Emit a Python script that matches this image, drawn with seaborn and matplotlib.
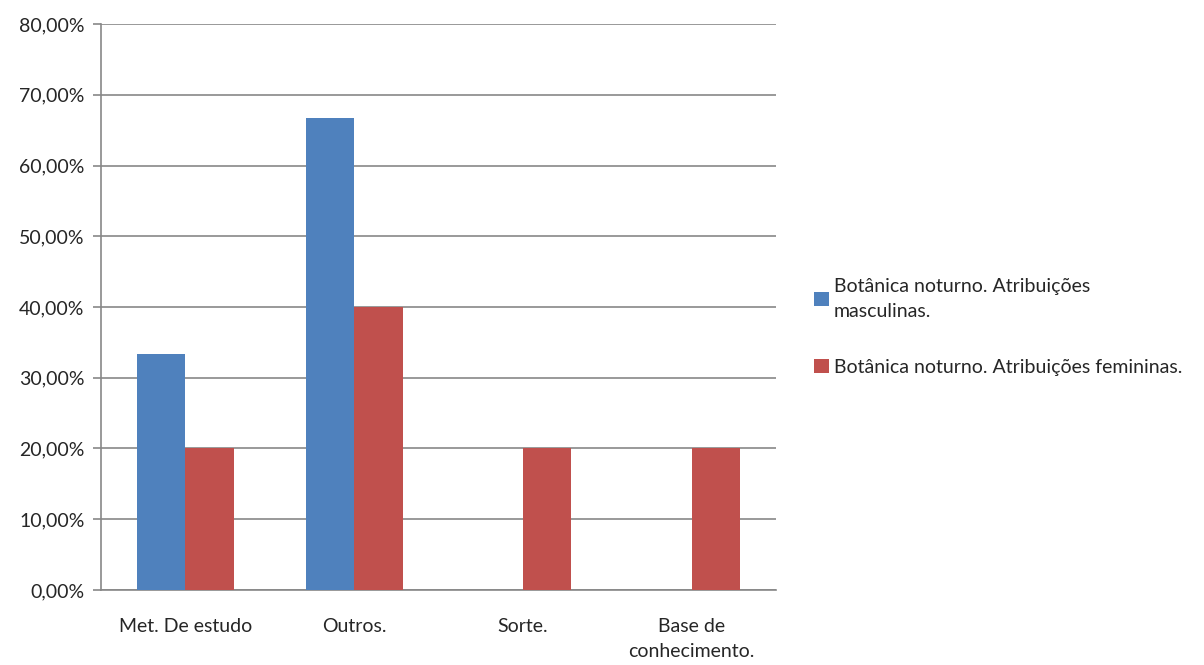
import seaborn as sns
import matplotlib.pyplot as plt
import pandas as pd
from matplotlib.ticker import FuncFormatter

categorias = ['Met. De estudo', 'Outros.', 'Sorte.', 'Base de\nconhecimento.']
series = ['Botânica noturno. Atribuições\nmasculinas.',
          'Botânica noturno. Atribuições femininas.']
masculinas = [33.33, 66.67, 0.0, 0.0]
femininas = [20.0, 40.0, 20.0, 20.0]
cores = ['#4F81BD', '#C0504D']

df = pd.DataFrame({
    'categoria': categorias * 2,
    'serie': [series[0]] * 4 + [series[1]] * 4,
    'valor': masculinas + femininas,
})

sns.set_theme(style='white')
plt.rcParams['font.family'] = ['Lato', 'DejaVu Sans']

fig = plt.figure(figsize=(12.04, 6.65), dpi=100)
ax = fig.add_axes([0.0839, 0.1128, 0.5606, 0.8511])

sns.barplot(data=df, x='categoria', y='valor', hue='serie', palette=cores,
            width=0.575, gap=0, saturation=1, linewidth=0, ax=ax, zorder=3)

ax.set_ylim(0, 80)
ax.set_xlim(-0.5, 3.5)
ax.set_yticks(range(0, 81, 10))
ax.yaxis.set_major_formatter(FuncFormatter(lambda v, p: f'{v:.2f}%'.replace('.', ',')))
ax.grid(axis='y', color='#878787', linewidth=1.2, zorder=0)
ax.set_xlabel('')
ax.set_ylabel('')

for s in ['top', 'right']:
    ax.spines[s].set_visible(False)
for s in ['left', 'bottom']:
    ax.spines[s].set_color('#878787')
    ax.spines[s].set_linewidth(1.2)

ax.set_xticks([-0.5, 0.5, 1.5, 2.5, 3.5], minor=True)
ax.tick_params(axis='x', which='major', length=0, pad=20, labelsize=14)
ax.tick_params(axis='x', which='minor', length=6, color='#878787', width=1.2, direction='out')
ax.tick_params(axis='y', length=6, color='#878787', width=1.2, direction='out', left=True,
               labelsize=14, pad=6)
for t in ax.get_xticklabels():
    t.set_linespacing(1.6)
    t.set_verticalalignment('top')

leg = ax.legend(loc='center left', bbox_to_anchor=(1.045, 0.465), frameon=False,
                fontsize=14, handlelength=0.75, handleheight=0.75, handletextpad=0.25,
                labelspacing=2.0, borderaxespad=0)
for t in leg.get_texts():
    t.set_linespacing(1.6)

fig.savefig('out.png', dpi=100)
